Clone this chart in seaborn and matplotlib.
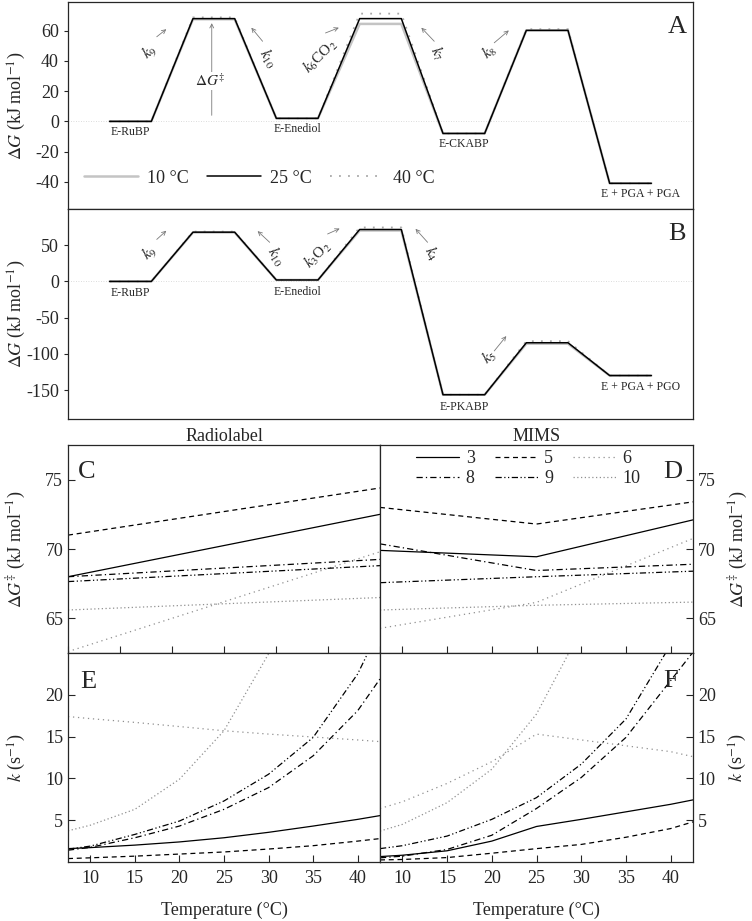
import numpy as np
import pandas as pd
import seaborn as sns
import matplotlib.pyplot as plt
from matplotlib.lines import Line2D

# ---------------- free energy profiles (kJ mol-1), one value per state
states_a = ["E-RuBP", "", "E-Enediol", "", "E-CKABP", "", "E + PGA + PGA"]
dg_a_10 = [0, 67.6, 2, 64.5, -8, 60.3, -41]
dg_a_25 = [0, 68.0, 2, 68.0, -8, 60.2, -41]
dg_a_40 = [0, 68.8, 2, 71.3, -8, 61.0, -41]

states_b = ["E-RuBP", "", "E-Enediol", "", "E-PKABP", "", "E + PGA + PGO"]
dg_b_10 = [0, 67.6, 2, 70.3, -156.5, -86.0, -130]
dg_b_25 = [0, 68.0, 2, 71.7, -156.5, -84.7, -130]
dg_b_40 = [0, 68.8, 2, 74.5, -156.5, -82.5, -130]

# ---------------- activation free energies vs temperature
temp_rad = [10, 40]
dgt3_rad = [68.0, 72.5]
dgt5_rad = [71.0, 74.4]
dgt6_rad = [62.6, 69.8]
dgt8_rad = [68.0, 69.25]
dgt9_rad = [67.65, 68.8]
dgt10_rad = [65.6, 66.5]

temp_mims = [7.5, 25, 42.5]
dgt3_mims = [69.9, 69.44, 72.1]
dgt5_mims = [73.0, 71.8, 73.4]
dgt6_mims = [64.28, 66.15, 70.76]
dgt8_mims = [70.37, 68.45, 68.9]
dgt9_mims = [67.57, 68.0, 68.4]
dgt10_mims = [65.6, 65.94, 66.17]

# ---------------- rate constants vs temperature (s-1)
temp_k = [7.5, 10, 15, 20, 25, 30, 35, 40, 42.5]
k3_rad = [1.6, 1.72, 2.02, 2.4, 2.9, 3.55, 4.3, 5.1, 5.55]
k5_rad = [0.41, 0.5, 0.7, 0.95, 1.2, 1.55, 1.95, 2.5, 2.8]
k6_rad = [17.4, 17.15, 16.7, 16.2, 15.7, 15.3, 14.95, 14.6, 14.4]
k8_rad = [1.41, 1.75, 2.9, 4.3, 6.3, 8.9, 12.7, 18.1, 21.9]
k9_rad = [1.53, 1.9, 3.3, 4.9, 7.3, 10.5, 14.9, 22.5, 28.0]
k10_rad = [3.73, 4.4, 6.3, 9.9, 15.7, 24.9, 39.0, 60.0, 75.0]

k3_mims = [0.65, 0.81, 1.34, 2.5, 4.25, 5.1, 6.0, 6.9, 7.43]
k5_mims = [0.25, 0.3, 0.53, 1.05, 1.6, 2.1, 2.96, 4.0, 4.8]
k6_mims = [6.4, 7.2, 9.4, 12.0, 15.3, 14.6, 13.9, 13.2, 12.6]
k8_mims = [0.5, 0.7, 1.5, 3.2, 6.4, 10.1, 14.9, 21.7, 25.1]
k9_mims = [1.6, 1.95, 3.1, 5.1, 7.7, 11.7, 17.1, 26.0, 31.0]
k10_mims = [3.7, 4.5, 7.1, 11.1, 17.7, 27.8, 43.0, 65.0, 80.0]

step_names = ["3", "5", "6", "8", "9", "10"]

sns.set_style("ticks")
plt.rcParams["font.family"] = ["Liberation Serif", "DejaVu Serif"]
plt.rcParams["mathtext.fontset"] = "stix"
plt.rcParams["axes.linewidth"] = 0.9
plt.rcParams["axes.unicode_minus"] = False

FS = 13

# line styles for the six steps
styles = {
    "3": dict(color="black", linestyle="-", lw=0.9),
    "5": dict(color="black", linestyle=(0, (4, 3)), lw=0.9),
    "6": dict(color="#909090", linestyle=(0, (1, 3)), lw=0.9),
    "8": dict(color="black", linestyle=(0, (5, 2.5, 1, 2.5)), lw=0.9),
    "9": dict(color="black", linestyle=(0, (5, 2, 1, 2, 1, 2)), lw=0.9),
    "10": dict(color="#909090", linestyle=(0, (1, 2)), lw=0.9),
}
temp_styles = {
    "10 °C": dict(color="#c4c4c4", linestyle="-", lw=1.8),
    "40 °C": dict(color="#a8a8a8", linestyle=(0, (1, 4)), lw=1.3),
    "25 °C": dict(color="black", linestyle="-", lw=1.1),
}

W, H = 752, 921
fig = plt.figure(figsize=(W / 100, H / 100), dpi=100)


def add_ax(l, r, t, b):
    return fig.add_axes([l / W, 1 - b / H, (r - l) / W, (b - t) / H])


ax_a = add_ax(68, 693, 2, 209)
ax_b = add_ax(68, 693, 209, 419)
ax_c = add_ax(68, 380, 445, 653)
ax_d = add_ax(380, 693, 445, 653)
ax_e = add_ax(68, 380, 653, 862)
ax_f = add_ax(380, 693, 653, 862)

# ---------------- panels A and B: reaction coordinate diagrams
x_steps = np.arange(14)


def profile(ax, profiles, names, ylim, yticks, arrows, letter, label_off):
    ax.axhline(0, color="#d0d0d0", lw=0.6, ls=(0, (1, 2)), zorder=0)
    for lab in ["10 °C", "40 °C", "25 °C"]:
        sns.lineplot(x=x_steps, y=np.repeat(profiles[lab], 2), ax=ax,
                     errorbar=None, sort=False, **temp_styles[lab])
    for i, name in enumerate(names):
        if not name:
            continue
        dx = 7 if i == len(names) - 1 else 0
        ax.annotate(name, (2 * i + 0.5, profiles["25 °C"][i]),
                    xytext=(dx, label_off), textcoords="offset points",
                    ha="center", va="center", fontsize=8.5)
    for (x0, y0), (x1, y1), txt, (tx, ty), rot in arrows:
        ax.annotate("", xy=(x1, y1), xytext=(x0, y0),
                    arrowprops=dict(arrowstyle="->", color="#7a7a7a", lw=0.6,
                                    shrinkA=0, shrinkB=0, mutation_scale=7))
        ax.text(tx, ty, txt, rotation=rot, ha="center", va="center",
                fontsize=11, color="#222222", rotation_mode="anchor")
    ax.set_xlim(-1, 14)
    ax.set_ylim(*ylim)
    ax.set_yticks(yticks)
    ax.set_xticks([])
    ax.set_xlabel("")
    ax.set_ylabel(r"$\Delta G$ (kJ mol$^{-1}$)", fontsize=FS)
    ax.yaxis.set_label_coords(-0.064, 0.5)
    ax.tick_params(axis="y", direction="out", length=3, labelsize=FS)
    ax.text(0.975, 0.88, letter, transform=ax.transAxes, ha="center",
            va="center", fontsize=19)


arrows_a = [
    ((1.13, 56), (1.36, 61), r"$k_9$", (0.96, 46), 40),
    ((3.67, 53), (3.40, 62), r"$k_{10}$", (3.80, 42), -58),
    ((5.18, 58.5), (5.50, 62), r"$k_6$CO$_2$", (5.06, 43), 45),
    ((7.79, 53), (7.48, 62), r"$k_7$", (7.85, 45), -60),
    ((9.23, 52), (9.58, 60.2), r"$k_8$", (9.12, 46), 40),
]
profile(ax_a, {"10 °C": dg_a_10, "25 °C": dg_a_25, "40 °C": dg_a_40},
        states_a, (-58, 79), [-40, -20, 0, 20, 40, 60], arrows_a, "A", -7.5)
# delta G double-dagger arrow
ax_a.annotate("", xy=(2.45, 65), xytext=(2.45, 4),
              arrowprops=dict(arrowstyle="->", color="#7a7a7a", lw=0.6,
                              shrinkA=0, shrinkB=0, mutation_scale=7))
ax_a.text(2.42, 27, r"$\Delta G^{\ddagger}$", ha="center", va="center",
          fontsize=11, bbox=dict(facecolor="white", edgecolor="none", pad=0.5))
leg_handles = [Line2D([], [], **temp_styles[k]) for k in ["10 °C", "25 °C", "40 °C"]]
ax_a.legend(leg_handles, ["10 °C", "25 °C", "40 °C"], loc="lower left",
            ncol=3, frameon=False, fontsize=FS, handlelength=3.0,
            columnspacing=1.0, handletextpad=0.5,
            bbox_to_anchor=(0.0, 0.03))

arrows_b = [
    ((1.13, 58), (1.36, 70), r"$k_9$", (0.96, 40), 40),
    ((3.84, 54), (3.55, 69.5), r"$k_{10}$", (3.98, 34), -58),
    ((5.23, 65.5), (5.52, 73), r"$k_3$O$_2$", (5.0, 37), 45),
    ((7.63, 54), (7.34, 72.6), r"$k_4$", (7.72, 38), -60),
    ((9.23, -96), (9.52, -75.5), r"$k_5$", (9.10, -104), 40),
]
profile(ax_b, {"10 °C": dg_b_10, "25 °C": dg_b_25, "40 °C": dg_b_40},
        states_b, (-190, 100), [-150, -100, -50, 0, 50], arrows_b, "B", -8.5)

# ---------------- panels C-F: temperature dependence
dgt_rad = dict(zip(step_names, [dgt3_rad, dgt5_rad, dgt6_rad, dgt8_rad, dgt9_rad, dgt10_rad]))
dgt_mims = dict(zip(step_names, [dgt3_mims, dgt5_mims, dgt6_mims, dgt8_mims, dgt9_mims, dgt10_mims]))
k_rad = dict(zip(step_names, [k3_rad, k5_rad, k6_rad, k8_rad, k9_rad, k10_rad]))
k_mims = dict(zip(step_names, [k3_mims, k5_mims, k6_mims, k8_mims, k9_mims, k10_mims]))

for ax, temps, series in [(ax_c, temp_rad, dgt_rad), (ax_d, temp_mims, dgt_mims),
                          (ax_e, temp_k, k_rad), (ax_f, temp_k, k_mims)]:
    for name in step_names:
        sns.lineplot(x=temps, y=series[name], ax=ax, errorbar=None,
                     label=name, **styles[name])
    ax.set_xlabel("")
    ax.set_ylabel("")
    if ax.get_legend():
        ax.get_legend().remove()

ax_c.set_xlim(10, 40)
ax_d.set_xlim(7.5, 42.5)
for ax in (ax_e, ax_f):
    ax.set_xlim(7.5, 42.5)
for ax in (ax_c, ax_d):
    ax.set_ylim(62.5, 77.5)
    ax.set_yticks([65, 70, 75])
for ax in (ax_e, ax_f):
    ax.set_ylim(0, 25)
    ax.set_yticks([5, 10, 15, 20])
for ax in (ax_c, ax_d, ax_e, ax_f):
    ax.set_xticks([10, 15, 20, 25, 30, 35, 40])
    ax.tick_params(direction="in", length=5, labelsize=FS)
    ax.tick_params(axis="x", pad=6)

ax_c.tick_params(axis="x", labelbottom=False)
ax_d.tick_params(axis="x", labelbottom=False)
for ax in (ax_d, ax_f):
    ax.yaxis.tick_right()
    ax.yaxis.set_label_position("right")
    ax.tick_params(axis="y", direction="in", length=5)

ax_c.set_title("Radiolabel", fontsize=FS, pad=3)
ax_d.set_title("MIMS", fontsize=FS, pad=3)
ax_c.set_ylabel(r"$\Delta G^{\ddagger}$ (kJ mol$^{-1}$)", fontsize=FS)
ax_d.set_ylabel(r"$\Delta G^{\ddagger}$ (kJ mol$^{-1}$)", fontsize=FS,
                rotation=90)
ax_e.set_ylabel(r"$k$ (s$^{-1}$)", fontsize=FS)
ax_f.set_ylabel(r"$k$ (s$^{-1}$)", fontsize=FS, rotation=90)
for ax in (ax_c, ax_e):
    ax.yaxis.set_label_coords(-0.128, 0.5)
for ax in (ax_d, ax_f):
    ax.yaxis.set_label_coords(1.108, 0.5)
ax_e.set_xlabel("Temperature (°C)", fontsize=FS, labelpad=10)
ax_f.set_xlabel("Temperature (°C)", fontsize=FS, labelpad=10)

for ax, letter, xy in [(ax_c, "C", (0.06, 0.87)), (ax_d, "D", (0.935, 0.87)),
                       (ax_e, "E", (0.065, 0.86)), (ax_f, "F", (0.93, 0.865))]:
    ax.text(*xy, letter, transform=ax.transAxes, ha="center", va="center",
            fontsize=19)

order = ["3", "8", "5", "9", "6", "10"]
leg_h = [Line2D([], [], **styles[n]) for n in order]
ax_d.legend(leg_h, order, loc="upper left", ncol=3, frameon=False,
            fontsize=FS, handlelength=2.4, columnspacing=1.1,
            handletextpad=0.35, labelspacing=0.15, borderpad=0,
            borderaxespad=0, bbox_to_anchor=(0.115, 0.975))

fig.savefig("out.png", dpi=100)
